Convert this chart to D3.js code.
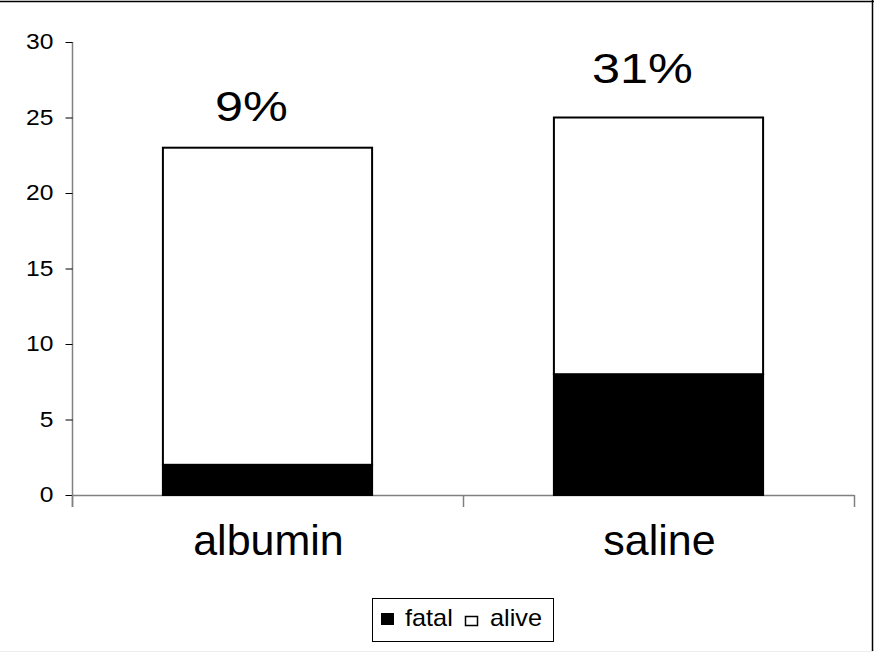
<!DOCTYPE html>
<html><head><meta charset="utf-8">
<script src="https://cdn.jsdelivr.net/npm/d3@7"></script>
<style>
html,body{margin:0;padding:0;background:#fff;}
svg{display:block;font-family:"Liberation Sans",Arial,sans-serif;}
</style></head>
<body>
<svg id="chart" width="874" height="652"></svg>
<script>
const categories = ["albumin", "saline"];
const fatal = [2, 8];
const alive = [21, 17];
const pctLabels = ["9%", "31%"];
const yTicks = [0, 5, 10, 15, 20, 25, 30];
const seriesNames = ["fatal", "alive"];

const svg = d3.select("#chart");
const W = 874, H = 652;
svg.append("rect").attr("width", W).attr("height", H).attr("fill", "#fff");
svg.append("line").attr("x1", 0).attr("x2", W).attr("y1", 1.5).attr("y2", 1.5).attr("stroke", "#000").attr("stroke-width", 1.5);
svg.append("line").attr("x1", 872.5).attr("x2", 872.5).attr("y1", 0).attr("y2", H).attr("stroke", "#000").attr("stroke-width", 1.5);
svg.append("line").attr("x1", 0).attr("x2", W).attr("y1", 651.5).attr("y2", 651.5).attr("stroke", "#eee").attr("stroke-width", 1);

const x = d3.scaleBand().domain(categories).range([72, 854]).paddingInner(0.465).paddingOuter(0.2325);
const y = d3.scaleLinear().domain([0, 30]).range([495, 42]);

// y axis
const yAxis = svg.append("g").attr("transform", "translate(72.5,0)")
  .call(d3.axisLeft(y).tickValues(yTicks).tickSize(7).tickPadding(0).tickFormat(d3.format("d")));
yAxis.attr("font-size", null).attr("font-family", null);
yAxis.select(".domain").attr("stroke", "#808080").attr("stroke-width", 1.5).attr("d", "M0," + y(30) + "V" + (y(0) + 12));
yAxis.selectAll(".tick line").attr("stroke", "#000").attr("stroke-width", 1);
yAxis.selectAll(".tick text")
  .attr("x", null).attr("dy", null)
  .attr("transform", "translate(-19,6.5) scale(1.12,1)")
  .style("font-size", "22px").attr("fill", "#000").attr("text-anchor", "end");

// x axis line
const gap = (x.step() - x.bandwidth()) / 2;
const bounds = [x.range()[0], x(categories[1]) - gap, x.range()[1]];
svg.append("line").attr("x1", x.range()[0]).attr("x2", x.range()[1]).attr("y1", y(0) + 0.5).attr("y2", y(0) + 0.5)
  .attr("stroke", "#808080").attr("stroke-width", 1.5);
svg.selectAll(".xtick").data(bounds).join("line").attr("class", "xtick")
  .attr("x1", d => Math.round(d) + 0.5).attr("x2", d => Math.round(d) + 0.5)
  .attr("y1", y(0)).attr("y2", y(0) + 12).attr("stroke", "#808080").attr("stroke-width", 1.5);

// bars
const data = categories.map((c, i) => ({c, fatal: fatal[i], alive: alive[i], label: pctLabels[i]}));
const stack = d3.stack().keys(seriesNames)(data);
const fills = {fatal: "#000", alive: "#fff"};
stack.forEach(layer => {
  svg.selectAll(".bar-" + layer.key).data(layer).join("rect")
    .attr("class", "bar-" + layer.key)
    .attr("x", d => x(d.data.c))
    .attr("width", x.bandwidth())
    .attr("y", d => y(d[1]))
    .attr("height", d => y(d[0]) - y(d[1]))
    .attr("fill", fills[layer.key])
    .attr("stroke", "#000").attr("stroke-width", 2);
});

// percent labels
const labelGap = [27, 35];
svg.selectAll(".pct").data(data).join("text").attr("class", "pct")
  .attr("transform", (d, i) => "translate(" + (x(d.c) + x.bandwidth() / 2 - 16) + "," + (y(d.fatal + d.alive) - labelGap[i]) + ") scale(1.2,1)")
  .attr("text-anchor", "middle").style("font-size", "42px").attr("fill", "#000").text(d => d.label);

// category labels
svg.selectAll(".cat").data(categories).join("text").attr("class", "cat")
  .attr("x", d => x(d) + x.bandwidth() / 2 + 1).attr("y", 555)
  .attr("text-anchor", "middle").style("font-size", "43px").attr("fill", "#000").text(d => d);

// legend
const lg = svg.append("g");
lg.append("rect").attr("x", 372.5).attr("y", 598.5).attr("width", 181).attr("height", 43).attr("fill", "#fff").attr("stroke", "#000").attr("stroke-width", 1);
lg.append("rect").attr("x", 381).attr("y", 613).attr("width", 13).attr("height", 12).attr("fill", "#000");
lg.append("text").attr("transform", "translate(405,626) scale(1.1,1)").style("font-size", "23px").attr("fill", "#000").text(seriesNames[0]);
lg.append("rect").attr("x", 465.5).attr("y", 616.5).attr("width", 12).attr("height", 9).attr("fill", "#fff").attr("stroke", "#000").attr("stroke-width", 1.5);
lg.append("text").attr("transform", "translate(490,626) scale(1.1,1)").style("font-size", "23px").attr("fill", "#000").text(seriesNames[1]);
</script>
</body></html>
